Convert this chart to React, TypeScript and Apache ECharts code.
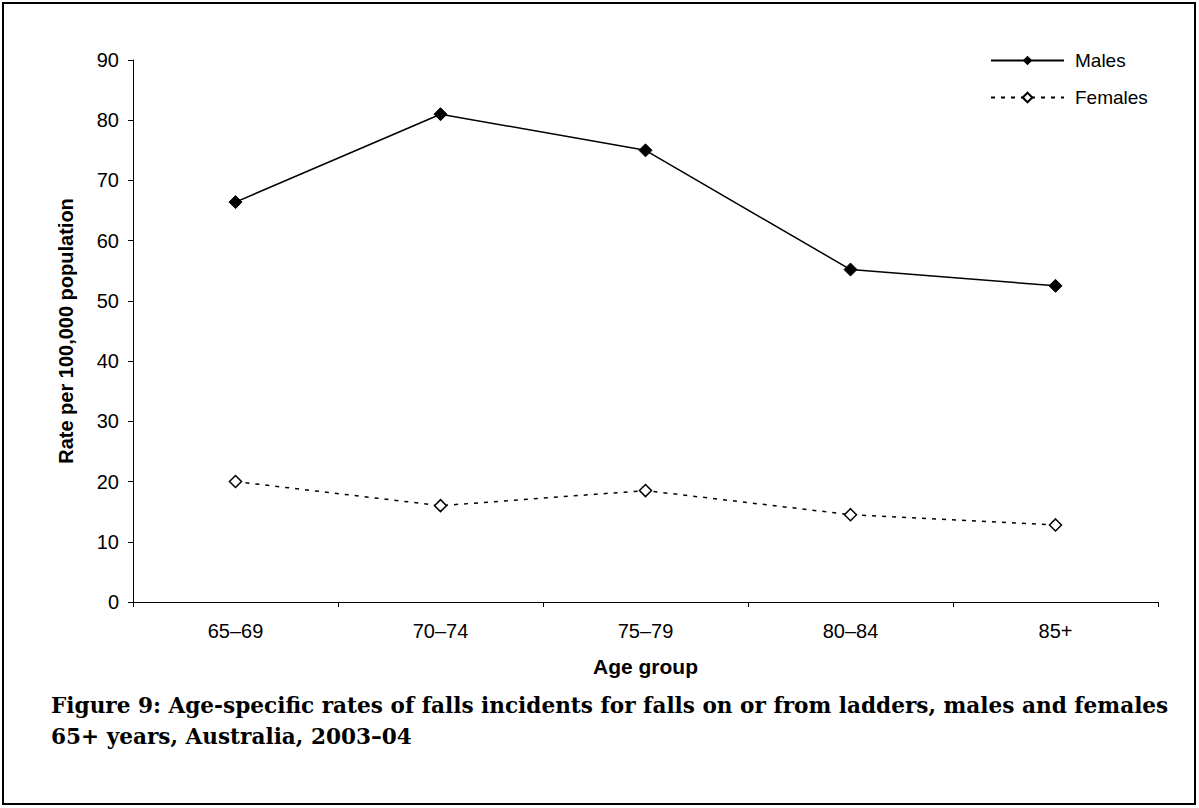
import React, { useEffect, useRef } from "react";
import * as echarts from "echarts";

const categories = ["65–69", "70–74", "75–79", "80–84", "85+"];
const males = [66.4, 81, 75, 55.2, 52.5];
const females = [20, 16, 18.5, 14.5, 12.8];
const yTicks = { min: 0, max: 90, interval: 10 };
const caption =
  "Figure 9: Age-specific rates of falls incidents for falls on or from ladders, males and females\n65+ years, Australia, 2003–04";

export default function App() {
  const ref = useRef<HTMLDivElement>(null);
  useEffect(() => {
    const chart = echarts.init(ref.current!, null, { renderer: "svg" });
    chart.setOption({
      animation: false,
      backgroundColor: "#fff",
      textStyle: { fontFamily: "Liberation Sans, Arial, sans-serif" },
      grid: { left: 133, right: 41, top: 60, bottom: 206, containLabel: false },
      legend: {
        left: 990,
        top: 51,
        orient: "vertical",
        itemWidth: 73,
        itemHeight: 12,
        itemGap: 18,
        padding: 0,
        textStyle: { fontSize: 19, color: "#000", fontFamily: "Liberation Sans, Arial, sans-serif", padding: [0, 0, 0, 6] },
        data: ["Males", "Females"],
      },
      xAxis: {
        type: "category",
        data: categories,
        boundaryGap: true,
        name: "Age group",
        nameLocation: "middle",
        nameGap: 54,
        nameTextStyle: { fontSize: 21, fontWeight: "bold", color: "#000" },
        axisLine: { lineStyle: { color: "#000", width: 1 } },
        axisTick: { show: true, length: 5, lineStyle: { color: "#000" } },
        axisLabel: { fontSize: 20, color: "#000", margin: 19 },
      },
      yAxis: {
        type: "value",
        min: yTicks.min,
        max: yTicks.max,
        interval: yTicks.interval,
        name: "Rate per 100,000 population",
        nameLocation: "middle",
        nameGap: 57,
        nameTextStyle: { fontSize: 20, fontWeight: "bold", color: "#000" },
        axisLine: { show: true, lineStyle: { color: "#000", width: 1 } },
        axisTick: { show: true, length: 5, lineStyle: { color: "#000" } },
        axisLabel: { fontSize: 20, color: "#000", margin: 14 },
        splitLine: { show: false },
      },
      series: [
        {
          name: "Males",
          type: "line",
          data: males,
          symbol: "diamond",
          symbolSize: 13,
          itemStyle: { color: "#000", borderColor: "#000" },
          lineStyle: { color: "#000", width: 1.5 },
        },
        {
          name: "Females",
          type: "line",
          data: females,
          symbol: "diamond",
          symbolSize: 12,
          itemStyle: { color: "#fff", borderColor: "#000", borderWidth: 1.5 },
          lineStyle: { color: "#000", width: 1.5, type: [4, 6] },
        },
      ],
      graphic: [
        {
          type: "rect",
          shape: { x: 3, y: 3, width: 1192, height: 801 },
          style: { fill: "none", stroke: "#000", lineWidth: 2 },
          silent: true,
        },
        {
          type: "text",
          left: 51,
          top: 690,
          style: {
            text: caption,
            font: "bold 21.6px 'DejaVu Serif', serif",
            lineHeight: 31,
            fill: "#000",
          },
        },
      ],
    });
    return () => chart.dispose();
  }, []);
  return (
    <div
      ref={ref}
      style={{ position: "fixed", left: 0, top: 0, width: 1199, height: 808 }}
    />
  );
}
